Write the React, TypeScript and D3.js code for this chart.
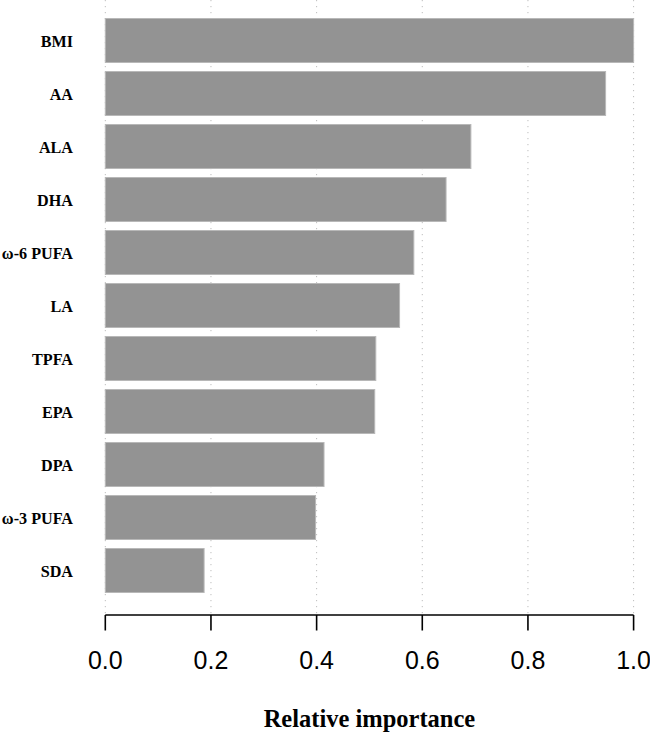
import React from "react";
import * as d3 from "d3";

const categories = ["BMI", "AA", "ALA", "DHA", "ω-6 PUFA", "LA", "TPFA", "EPA", "DPA", "ω-3 PUFA", "SDA"];
const importance = [1.0, 0.947, 0.692, 0.645, 0.584, 0.557, 0.512, 0.510, 0.414, 0.398, 0.187];
const xTicks = [0, 0.2, 0.4, 0.6, 0.8, 1.0];
const xTitle = "Relative importance";

const W = 650;
const H = 734;

export default function App() {
  const x = d3.scaleLinear().domain([0, 1]).range([105.3, 633.6]);
  const y = d3
    .scaleBand<string>()
    .domain(categories)
    .range([14, 597])
    .paddingInner(0.17)
    .paddingOuter(0.085);
  const axisY = 615;

  return (
    <svg
      width={W}
      height={H}
      style={{ position: "absolute", left: 0, top: 0, background: "#fff" }}
    >
      {xTicks.map((t) => (
        <line
          key={"g" + t}
          x1={x(t)}
          x2={x(t)}
          y1={0}
          y2={axisY}
          stroke="#bdbdbd"
          strokeWidth={1}
          strokeDasharray="1.2,4.8"
        />
      ))}
      {categories.map((c, i) => (
        <g key={c}>
          <rect
            x={x(0)}
            y={y(c)!}
            width={x(importance[i]) - x(0)}
            height={y.bandwidth()}
            fill="#939393"
            stroke="#b8b8b8"
            strokeWidth={1}
          />
          <text
            transform={`translate(73,${y(c)! + y.bandwidth() / 2 + 6}) scale(0.95,1)`}
            textAnchor="end"
            fontFamily="'Liberation Serif', 'Times New Roman', serif"
            fontWeight="bold"
            fontSize={17}
            fill="#000"
          >
            {c}
          </text>
        </g>
      ))}
      <line x1={x(0)} x2={x(1)} y1={axisY} y2={axisY} stroke="#000" strokeWidth={1.6} />
      {xTicks.map((t) => (
        <g key={"t" + t}>
          <line x1={x(t)} x2={x(t)} y1={axisY} y2={axisY + 15.5} stroke="#000" strokeWidth={1.6} />
          <text
            x={x(t)}
            y={669}
            textAnchor="middle"
            fontFamily="'Liberation Sans', Arial, sans-serif"
            fontSize={25}
            fill="#000"
          >
            {t.toFixed(1)}
          </text>
        </g>
      ))}
      <text
        x={(x(0) + x(1)) / 2}
        y={727}
        textAnchor="middle"
        fontFamily="'Liberation Serif', 'Times New Roman', serif"
        fontWeight="bold"
        fontSize={24.5}
        fill="#000"
      >
        {xTitle}
      </text>
    </svg>
  );
}
